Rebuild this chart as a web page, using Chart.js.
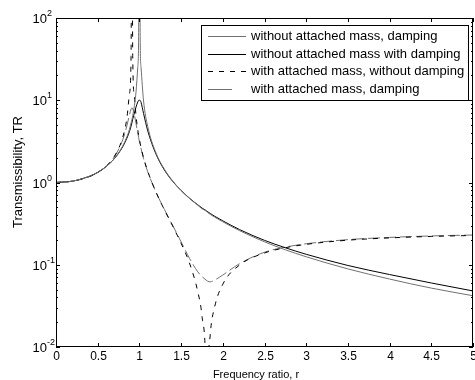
<!DOCTYPE html>
<html>
<head>
<meta charset="utf-8">
<script src="https://cdn.jsdelivr.net/npm/chart.js@4"></script>
<style>
  html, body { margin: 0; padding: 0; background: #fff; }
  #wrap { width: 475px; height: 380px; }
</style>
</head>
<body>
<div id="wrap"><canvas id="chart"></canvas></div>
<script>
// frequency ratio r (shared by all curves)
const ratio = [0, 0.2, 0.4, 0.5, 0.6, 0.7, 0.8, 0.85, 0.88, 0.9,
  0.91, 0.92, 0.94, 0.96, 0.98, 0.99, 1.0, 1.01, 1.02, 1.05,
  1.1, 1.2, 1.3, 1.4, 1.5, 1.6, 1.7, 1.75, 1.8, 1.81,
  1.82, 1.85, 1.9, 2.0, 2.2, 2.5, 2.75, 3.0, 3.5, 4.0,
  4.5, 5.0];

// transmissibility values
const trNoMassUndamped = [1, 1.04, 1.19, 1.33, 1.56, 1.96, 2.78, 3.6, 4.4, 5.3,
  5.8, 6.5, 8.6, 12.8, 25, 50, 10000, 50, 25, 9.8,
  4.8, 2.27, 1.45, 1.04, 0.8, 0.64, 0.53, 0.48, 0.45, 0.44,
  0.43, 0.41, 0.38, 0.333, 0.26, 0.19, 0.152, 0.125, 0.089, 0.067,
  0.052, 0.042];
const trNoMassDamped = [1, 1.04, 1.19, 1.33, 1.56, 1.95, 2.72, 3.45, 4.15, 4.85,
  5.3, 5.9, 7.0, 8.3, 9.5, 9.95, 10.05, 9.9, 9.4, 6.9,
  4.25, 2.2, 1.42, 1.03, 0.8, 0.645, 0.535, 0.49, 0.455, 0.448,
  0.44, 0.42, 0.39, 0.342, 0.268, 0.198, 0.161, 0.134, 0.098, 0.076,
  0.06, 0.048];
const trMassUndamped = [1, 1.04, 1.18, 1.32, 1.57, 2.08, 3.54, 6.1, 11.8, 34,
  10000, 33.6, 10.9, 6.4, 4.4, 3.82, 3.35, 2.97, 2.66, 2.0,
  1.37, 0.76, 0.465, 0.294, 0.182, 0.105, 0.047, 0.024, 0.0038, 0.0005,
  0.0037, 0.0143, 0.030, 0.058, 0.099, 0.139, 0.161, 0.177, 0.199, 0.212,
  0.221, 0.227];
const trMassDamped = [1, 1.04, 1.18, 1.32, 1.56, 2.05, 3.3, 4.9, 6.6, 7.8,
  8.1, 7.9, 6.6, 5.2, 4.0, 3.55, 3.15, 2.85, 2.57, 1.95,
  1.35, 0.76, 0.47, 0.3, 0.19, 0.12, 0.082, 0.072, 0.065, 0.064,
  0.063, 0.062, 0.065, 0.075, 0.103, 0.142, 0.164, 0.18, 0.202, 0.215,
  0.224, 0.23];

const seriesLabels = [
  'without attached mass, damping',
  'without attached mass with damping',
  'with attached mass, without damping',
  'with attached mass, damping'
];

const xTickValues = [0, 0.5, 1, 1.5, 2, 2.5, 3, 3.5, 4, 4.5, 5];
const xTickLabels = ['0', '0.5', '1', '1.5', '2', '2.5', '3', '3.5', '4', '4.5', '5'];
const yTickExponents = [-2, -1, 0, 1, 2];

const GRAY = '#707070';
const FONT = '"Liberation Sans", Arial, sans-serif';

function points(values) {
  return ratio.map((r, i) => ({ x: r, y: values[i] }));
}

// MATLAB-like box, inward ticks, tick labels, titles and legend
const matlabAxes = {
  id: 'matlabAxes',
  afterDraw(chart) {
    const ctx = chart.ctx;
    const a = chart.chartArea;
    const xs = chart.scales.x;
    const ys = chart.scales.y;
    ctx.save();
    ctx.strokeStyle = '#000';
    ctx.fillStyle = '#000';
    ctx.lineWidth = 1;

    // x ticks top and bottom
    ctx.font = '12px ' + FONT;
    ctx.textAlign = 'center';
    ctx.textBaseline = 'middle';
    xTickValues.forEach((v, i) => {
      const px = Math.round(xs.getPixelForValue(v)) + 0.5;
      ctx.beginPath();
      ctx.moveTo(px, a.bottom); ctx.lineTo(px, a.bottom - 4);
      ctx.moveTo(px, a.top); ctx.lineTo(px, a.top + 4);
      ctx.stroke();
      ctx.fillText(xTickLabels[i], px, a.bottom + 10);
    });

    // y ticks, major and minor, both sides
    yTickExponents.forEach(e => {
      const py = Math.round(ys.getPixelForValue(Math.pow(10, e))) + 0.5;
      ctx.beginPath();
      ctx.moveTo(a.left, py); ctx.lineTo(a.left + 4, py);
      ctx.moveTo(a.right, py); ctx.lineTo(a.right - 4, py);
      ctx.stroke();
      if (e < 2) {
        for (let m = 2; m <= 9; m++) {
          const pm = Math.round(ys.getPixelForValue(m * Math.pow(10, e))) + 0.5;
          ctx.beginPath();
          ctx.moveTo(a.left, pm); ctx.lineTo(a.left + 2, pm);
          ctx.moveTo(a.right, pm); ctx.lineTo(a.right - 2, pm);
          ctx.stroke();
        }
      }
      ctx.font = '13px ' + FONT;
      ctx.textAlign = 'right';
      ctx.textBaseline = 'middle';
      ctx.fillText('10', a.left - 9, py + 1);
      ctx.font = '9px ' + FONT;
      ctx.textAlign = 'left';
      ctx.fillText(String(e), a.left - 9, py - 5);
    });

    // axis titles
    ctx.font = '11px ' + FONT;
    ctx.textAlign = 'center';
    ctx.textBaseline = 'middle';
    ctx.fillText('Frequency ratio, r', 256, 375);
    ctx.save();
    ctx.translate(18, 172);
    ctx.rotate(-Math.PI / 2);
    ctx.font = '13px ' + FONT;
    ctx.fillText('Transmissibility, TR', 0, 0);
    ctx.restore();

    // legend box
    const lx = 201.5, ly = 25.5, lw = 267, lh = 75;
    ctx.fillStyle = '#fff';
    ctx.fillRect(lx, ly, lw, lh);
    ctx.strokeRect(lx, ly, lw, lh);
    ctx.font = '13px ' + FONT;
    ctx.textAlign = 'left';
    ctx.textBaseline = 'middle';
    const legendDash = [[], [], [5, 6], [24, 100]];
    chart.data.datasets.forEach((ds, i) => {
      const rowY = Math.round(36 + i * 17.5) + 0.5;
      ctx.strokeStyle = ds.borderColor;
      ctx.setLineDash(legendDash[i]);
      ctx.beginPath();
      ctx.moveTo(208, rowY);
      ctx.lineTo(246, rowY);
      ctx.stroke();
      ctx.setLineDash([]);
      ctx.fillStyle = '#000';
      ctx.fillText(ds.label, 251, rowY);
    });

    // box around the axes
    ctx.strokeStyle = '#000';
    ctx.strokeRect(a.left + 0.5, a.top + 0.5, a.right - a.left - 1, a.bottom - a.top - 1);
    ctx.restore();
  }
};

const lineBase = { borderWidth: 1, pointRadius: 0, fill: false, cubicInterpolationMode: 'monotone' };

new Chart(document.getElementById('chart'), {
  type: 'line',
  data: {
    datasets: [
      Object.assign({ label: seriesLabels[0], data: points(trNoMassUndamped), borderColor: GRAY }, lineBase),
      Object.assign({ label: seriesLabels[1], data: points(trNoMassDamped), borderColor: '#000' }, lineBase),
      Object.assign({ label: seriesLabels[2], data: points(trMassUndamped), borderColor: '#000', borderDash: [5, 6] }, lineBase),
      Object.assign({ label: seriesLabels[3], data: points(trMassDamped), borderColor: GRAY, borderDash: [12, 4] }, lineBase)
    ]
  },
  options: {
    responsive: true,
    maintainAspectRatio: false,
    animation: false,
    devicePixelRatio: 1,
    layout: { padding: { top: 18, right: 2, left: 0, bottom: 0 } },
    plugins: { legend: { display: false }, tooltip: { enabled: false } },
    scales: {
      x: {
        type: 'linear', min: 0, max: 5,
        grid: { display: false }, border: { display: false },
        ticks: { display: false },
        afterFit: s => { s.height = 33; }
      },
      y: {
        type: 'logarithmic', min: 0.01, max: 100,
        grid: { display: false }, border: { display: false },
        ticks: { display: false },
        afterFit: s => { s.width = 56; }
      }
    }
  },
  plugins: [matlabAxes]
});
</script>
</body>
</html>
